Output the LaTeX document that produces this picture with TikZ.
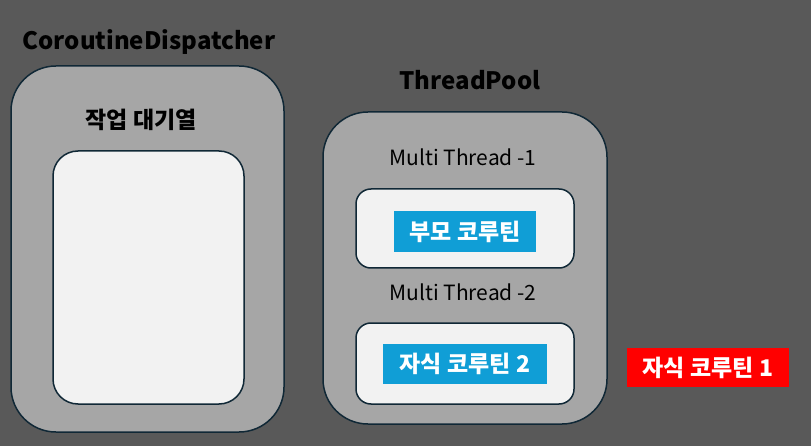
\documentclass[tikz,border=0pt]{standalone}
\usepackage{fontspec}
\setmainfont{Noto Sans CJK KR}
\usepackage{tikz}
\usetikzlibrary{positioning}
\definecolor{bgGray}{RGB}{89,89,89}
\definecolor{boxGray}{RGB}{166,166,166}
\definecolor{paleGray}{RGB}{242,242,242}
\definecolor{edgeNavy}{RGB}{16,40,54}
\definecolor{coBlue}{RGB}{16,158,214}
\definecolor{coRed}{RGB}{255,0,0}
\tikzset{
  outerbox/.style={draw=edgeNavy, line width=1.5pt, fill=boxGray, rounded corners=45pt},
  innerbox/.style={draw=edgeNavy, line width=1.5pt, fill=paleGray},
  tag/.style={text=white, inner sep=0pt, font=\fontsize{23}{23}\selectfont\bfseries},
  title/.style={font=\fontsize{24}{24}\selectfont\bfseries},
  thread/.style={font=\fontsize{21}{21}\selectfont}
}
\begin{document}
\begin{tikzpicture}[x=1pt, y=-1pt]
  % Background
  \fill[bgGray] (0,0) rectangle (811,446);
  \useasboundingbox (0,0) rectangle (811,446);
  % Dispatcher
  \node[title] (dispTitle) at (149,42) {CoroutineDispatcher};
  \node[outerbox, minimum width=273pt, minimum height=366pt] (disp) at (147.5,249) {};
  \node[font=\fontsize{23}{23}\selectfont\bfseries] (queueLabel) at (141,120) {작업 대기열};
  \node[innerbox, rounded corners=25pt, minimum width=191pt, minimum height=253pt] (queue) at (148.5,277.5) {};
  % Thread pool
  \node[title] (poolTitle) at (470,80) {ThreadPool};
  \node[outerbox, minimum width=284pt, minimum height=312pt] (pool) at (465,268) {};
  \node[thread] (threadA) at (463,157) {Multi Thread -1};
  \node[innerbox, rounded corners=15pt, minimum width=218pt, minimum height=79pt] (slotA) at (465,228.5) {};
  \node[tag, fill=coBlue, minimum width=142pt, minimum height=41pt] (parent) at (465,231.5) {부모 코루틴};
  \node[thread] (threadB) at (463,292) {Multi Thread -2};
  \node[innerbox, rounded corners=15pt, minimum width=218pt, minimum height=81pt] (slotB) at (465,363.5) {};
  \node[tag, fill=coBlue, minimum width=164pt, minimum height=40pt] (childB) at (465,364) {자식 코루틴 2};
  % Waiting child
  \node[tag, fill=coRed, minimum width=162pt, minimum height=39pt] (childA) at (708,367.5) {자식 코루틴 1};
\end{tikzpicture}
\end{document}
